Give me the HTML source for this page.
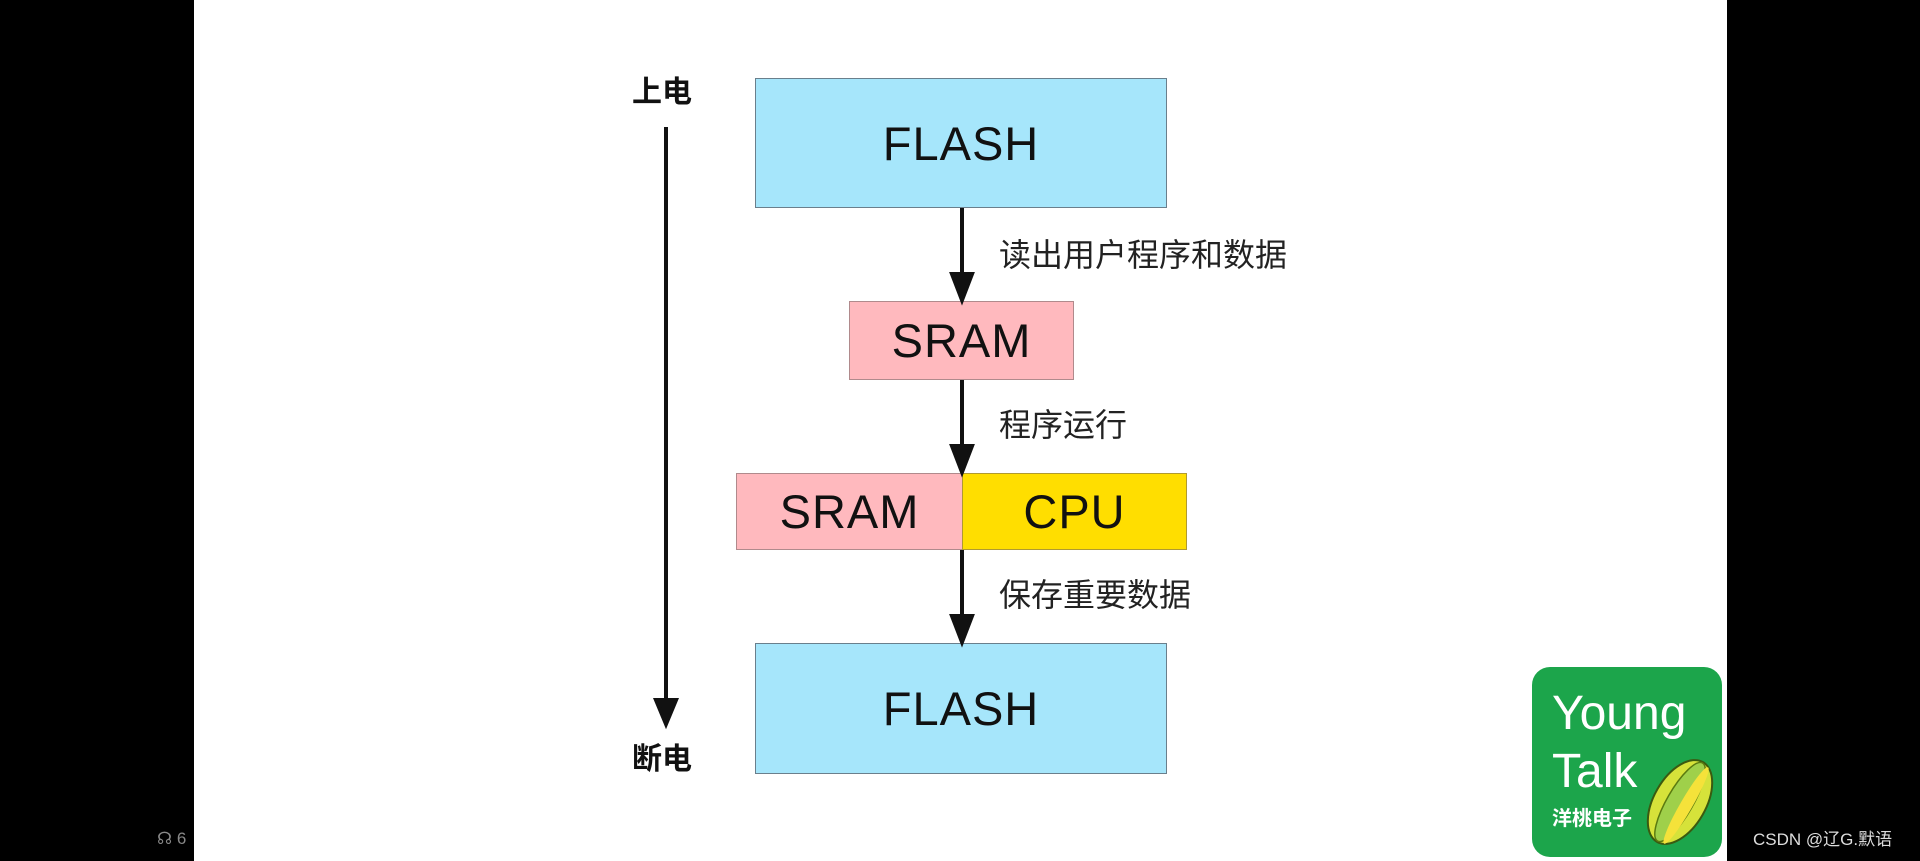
<!DOCTYPE html>
<html><head><meta charset="utf-8"><style>
body{margin:0;width:1920px;height:861px;background:#000;position:relative;overflow:hidden;font-family:"Liberation Sans","Noto Sans CJK SC",sans-serif}
.a{position:absolute}
.box{position:absolute;box-sizing:border-box;border:1.5px solid #6a7f8c;display:flex;align-items:center;justify-content:center;color:#111;font-size:47px;letter-spacing:1px}
.lbl{position:absolute;font-size:32px;color:#222;line-height:1}
</style></head><body>
<div class="a" style="left:194px;top:0;width:1533px;height:861px;background:#fff"></div>
<div class="box" style="left:755px;top:78px;width:412px;height:130px;background:#a6e6fb">FLASH</div>
<div class="box" style="left:849px;top:301px;width:225px;height:79px;background:#ffb9be;border-color:#b08a8c">SRAM</div>
<div class="box" style="left:736px;top:473px;width:227px;height:77px;background:#ffb9be;border-color:#b08a8c">SRAM</div>
<div class="box" style="left:962px;top:473px;width:225px;height:77px;background:#ffde00;border-color:#b09a30">CPU</div>
<div class="box" style="left:755px;top:643px;width:412px;height:131px;background:#a6e6fb">FLASH</div>
<svg class="a" style="left:0;top:0" width="1920" height="861">
<g stroke="#111" stroke-width="4" fill="#111">
<line x1="962" y1="208" x2="962" y2="280"/><polygon points="952,274 972,274 962,300"/>
<line x1="962" y1="380" x2="962" y2="452"/><polygon points="952,446 972,446 962,472"/>
<line x1="962" y1="550" x2="962" y2="622"/><polygon points="952,616 972,616 962,642"/>
<line x1="666" y1="127" x2="666" y2="702"/><polygon points="656,700 676,700 666,724"/>
</g></svg>
<div class="lbl" style="left:999px;top:239px">读出用户程序和数据</div>
<div class="lbl" style="left:999px;top:409px">程序运行</div>
<div class="lbl" style="left:999px;top:579px">保存重要数据</div>
<div class="lbl" style="left:632px;top:78px;font-weight:bold;font-size:30px;color:#111">上电</div>
<div class="lbl" style="left:632px;top:745px;font-weight:bold;font-size:30px;color:#111">断电</div>
<div class="a" style="left:1532px;top:667px;width:190px;height:190px;background:#1ca54b;border-radius:18px"></div>
<div class="a" style="left:1552px;top:690px;color:#fff;font-size:48px;line-height:1">Young</div>
<div class="a" style="left:1552px;top:748px;color:#fff;font-size:48px;line-height:1">Talk</div>
<div class="a" style="left:1552px;top:809px;color:#fff;font-size:20px;font-weight:bold;line-height:1">洋桃电子</div>
<svg class="a" style="left:1640px;top:750px" width="80" height="105"><g transform="rotate(30 40 52)"><ellipse cx="40" cy="52" rx="26" ry="46" fill="#d6e23a" stroke="#3a5a10" stroke-width="2"/><ellipse cx="40" cy="52" rx="13" ry="45" fill="#9fd04a" stroke="#5a7a10" stroke-width="1.5"/><ellipse cx="47" cy="52" rx="6" ry="44" fill="#f5e23a"/></g></svg>
<div class="a" style="left:1753px;top:831px;color:#ddd;font-size:17px;line-height:1">CSDN @辽G.默语</div>
<div class="a" style="left:157px;top:830px;color:#888;font-size:17px;line-height:1">☊ 6</div>
</body></html>
